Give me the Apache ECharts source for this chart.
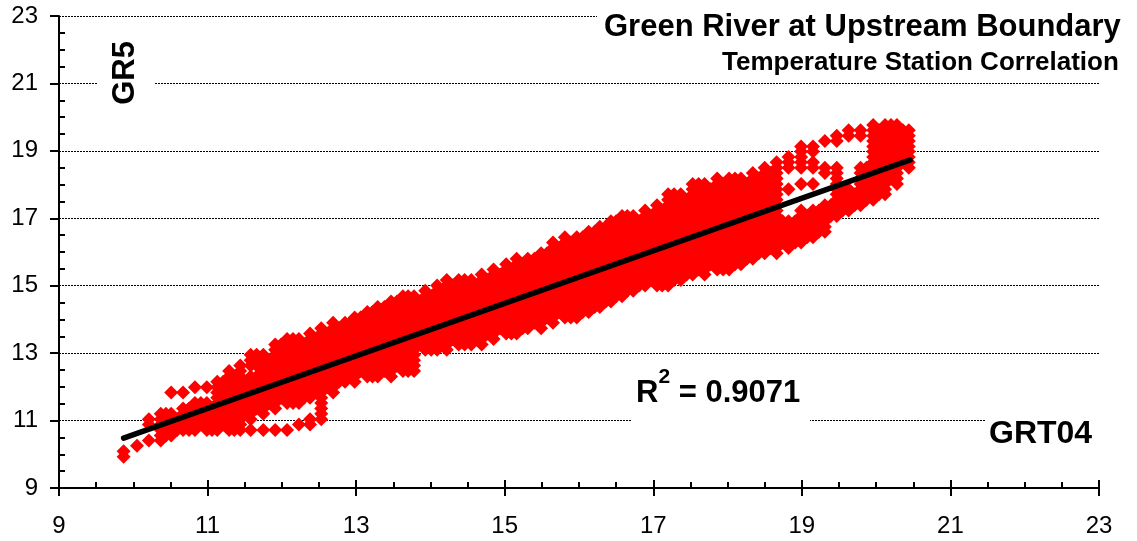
<!DOCTYPE html>
<html>
<head>
<meta charset="utf-8">
<script src="https://cdn.jsdelivr.net/npm/echarts@6/dist/echarts.min.js"></script>
<style>html,body{margin:0;padding:0;background:#fff}#c{width:1137px;height:541px}</style>
</head>
<body>
<div id="c"></div>
<script>
const axisTicks = [9, 11, 13, 15, 17, 19, 21, 23];
const titleText = 'Green River at Upstream Boundary';
const subtitleText = 'Temperature Station Correlation';
const xName = 'GRT04';
const yName = 'GR5';
const rSquared = '0.9071';
const trendX = [9.87, 20.46];
const trendY = [10.48, 18.73];

// GRT04 readings (one per column of points)
const grt04 = [9.87,10.05,10.21,10.37,10.51,10.67,10.83,10.99,11.13,11.29,11.44,11.58,11.75,11.91,12.07,12.23,12.38,12.53,12.69,12.85,12.98,13.15,13.29,13.47,13.63,13.78,13.93,14.09,14.22,14.38,14.55,14.69,14.85,15.02,15.16,15.31,15.49,15.65,15.81,15.97,16.13,16.28,16.43,16.58,16.73,16.89,17.05,17.20,17.37,17.53,17.69,17.86,18.02,18.18,18.34,18.50,18.66,18.82,18.99,19.15,19.31,19.47,19.63,19.79,19.96,20.12,20.28,20.44];
// GR5 logger levels
const gr5Levels = [9.93,10.09,10.25,10.41,10.56,10.72,10.88,11.04,11.20,11.36,11.52,11.68,11.83,11.99,12.15,12.31,12.47,12.63,12.79,12.95,13.10,13.26,13.42,13.58,13.74,13.90,14.06,14.22,14.37,14.53,14.69,14.85,15.01,15.17,15.33,15.48,15.64,15.80,15.96,16.12,16.28,16.44,16.60,16.75,16.91,17.07,17.23,17.39,17.55,17.71,17.86,18.02,18.18,18.34,18.50,18.66,18.82,18.98,19.13,19.29,19.45,19.61,19.77];
// Which GR5 levels were observed at each GRT04 reading
const gr5LevelsSeen = [
[0,1],
[2],
[3,6,7],
[3,4,5,6,7,8],
[4,5,6,7,8,12],
[5,6,7,8,9,12],
[5,6,7,8,9,10,13],
[5,6,7,8,9,10,13],
[5,6,7,8,9,10,11,12,13,14],
[5,6,7,8,9,10,11,12,13,14,15,16],
[5,6,7,8,9,10,11,12,13,14,15,16,17],
[5,7,8,9,10,11,12,13,14,15,17,18,19],
[5,8,9,10,11,12,13,14,15,16,17,18,19],
[5,9,10,11,12,13,14,15,16,17,18,19,20,21],
[5,10,11,12,13,14,15,16,17,18,19,20,21,22],
[6,10,11,12,13,14,15,16,17,18,19,20,21,22],
[6,7,11,12,13,14,15,16,17,18,19,20,21,22,23],
[7,8,9,10,11,12,13,14,15,16,17,18,19,20,21,22,23,24],
[12,13,14,15,16,17,18,19,20,21,22,23,24,25],
[14,15,16,17,18,19,20,21,22,23,24,25],
[14,15,16,17,18,19,20,21,22,23,24,25,26],
[15,16,17,18,19,20,21,22,23,24,25,26,27],
[15,16,17,18,19,20,21,22,23,24,25,26,27,28],
[15,16,17,18,19,20,21,22,23,24,25,26,27,28,29],
[16,17,18,19,20,21,22,23,24,25,26,27,28,29,30],
[16,17,18,19,20,21,22,23,24,25,26,27,28,29,30],
[20,21,22,23,24,25,26,27,28,29,30,31],
[20,21,22,23,24,25,26,27,28,29,30,31,32],
[20,21,22,23,24,25,26,27,28,29,30,31,32,33],
[21,22,23,24,25,26,27,28,29,30,31,32,33],
[21,22,23,24,25,26,27,28,29,30,31,32,33],
[21,22,23,24,25,26,27,28,29,30,31,32,33,34],
[22,23,24,25,26,27,28,29,30,31,32,33,34,35],
[23,24,25,26,27,28,29,30,31,32,33,34,35,36],
[23,24,25,26,27,28,29,30,31,32,33,34,35,36,37],
[24,25,26,27,28,29,30,31,32,33,34,35,36,37],
[24,25,26,27,28,29,30,31,32,33,34,35,36,37,38],
[25,26,27,28,29,30,31,32,33,34,35,36,37,38,39,40],
[26,27,28,29,30,31,32,33,34,35,36,37,38,39,40,41],
[26,27,28,29,30,31,32,33,34,35,36,37,38,39,40,41],
[27,28,29,30,31,32,33,34,35,36,37,38,39,40,41,42],
[28,29,30,31,32,33,34,35,36,37,38,39,40,41,42,43],
[29,30,31,32,33,34,35,36,37,38,39,40,41,42,43,44],
[30,31,32,33,34,35,36,37,38,39,40,41,42,43,44,45],
[31,32,33,34,35,36,37,38,39,40,41,42,43,44,45],
[32,33,34,35,36,37,38,39,40,41,42,43,44,45,46],
[32,33,34,35,36,37,38,39,40,41,42,43,44,45,46,47],
[32,33,34,35,36,37,38,39,40,41,42,43,44,45,46,47,48,49],
[33,34,35,36,37,38,39,40,41,42,43,44,45,46,47,48,49],
[34,35,36,37,38,39,40,41,42,43,44,45,46,47,48,49,50,51],
[34,35,36,37,38,39,40,41,42,43,44,45,46,47,48,49,50,51],
[35,36,37,38,39,40,41,42,43,44,45,46,47,48,49,50,51,52],
[35,36,37,38,39,40,41,42,43,44,45,46,47,48,49,50,51,52],
[36,37,38,39,40,41,42,43,44,45,46,47,48,49,50,51,52],
[37,38,39,40,41,42,43,44,45,46,47,48,49,50,51,52,53],
[38,39,40,41,42,43,44,45,46,47,48,49,50,51,52,53,54],
[38,39,40,41,42,43,44,45,46,47,48,49,50,51,52,53,54,55],
[39,40,41,42,43,44,50,54,55,56],
[40,41,42,43,44,45,46,51,54,55,56,57,58],
[41,42,43,44,45,46,51,54,55,57,58],
[42,43,44,45,46,47,53,54,59],
[45,46,47,48,49,50,51,52,53,54,59,60],
[46,47,48,49,50,60,61],
[47,48,49,50,51,52,53,54,60,61],
[48,49,50,51,52,53,54,55,56,57,58,59,60,61,62],
[49,50,51,52,53,54,55,56,57,58,59,60,61,62],
[51,52,53,54,55,56,57,58,59,60,61,62],
[54,55,56,57,58,59,60,61]
];

// Readings that sit between the main columns and close the seams of the dense band
const grt04Between = [10.44,10.59,10.75,10.91,11.06,11.21,11.36,11.51,11.66,11.83,11.99,12.15,12.30,12.45,12.61,12.77,12.92,13.06,13.22,13.38,13.55,13.70,13.85,14.01,14.15,14.30,14.46,14.62,14.77,14.94,15.09,15.24,15.40,15.57,15.73,15.89,16.05,16.21,16.36,16.50,16.65,16.81,16.97,17.12,17.28,17.45,17.61,17.77,17.94,18.10,18.26,18.42,18.58,18.74,18.91,19.07,19.23,19.39,19.55,19.71,19.87,20.04,20.20,20.36];
const gr5LevelsBetween = [
[4,6,8],
[5,7],
[5,7,9],
[6,8,10],
[5,7,9],
[6,8,10,12,14],
[5,7,9,11,13,15],
[8,10,12,14],
[9,11,13,15,17,19],
[10,12,14,16,18],
[11,13,15,17,19,21],
[10,12,14,16,18,20,22],
[11,13,15,17,19,21],
[12,14,16,18,20,22],
[13,15,17,19,21,23],
[14,16,18,20,22,24],
[15,17,19,21,23,25],
[16,18,20,22,24,26],
[15,17,19,21,23,25,27],
[16,18,20,22,24,26,28],
[17,19,21,23,25,27,29],
[16,18,20,22,24,26,28,30],
[21,23,25,27,29],
[20,22,24,26,28,30],
[21,23,25,27,29,31],
[22,24,26,28,30,32],
[21,23,25,27,29,31,33],
[22,24,26,28,30,32],
[23,25,27,29,31,33],
[24,26,28,30,32,34],
[23,25,27,29,31,33,35],
[24,26,28,30,32,34,36],
[25,27,29,31,33,35,37],
[26,28,30,32,34,36,38],
[27,29,31,33,35,37,39],
[26,28,30,32,34,36,38,40],
[27,29,31,33,35,37,39,41],
[28,30,32,34,36,38,40,42],
[29,31,33,35,37,39,41,43],
[30,32,34,36,38,40,42,44],
[31,33,35,37,39,41,43,45],
[32,34,36,38,40,42,44],
[33,35,37,39,41,43,45],
[32,34,36,38,40,42,44,46],
[33,35,37,39,41,43,45,47,49],
[34,36,38,40,42,44,46,48],
[35,37,39,41,43,45,47,49,51],
[36,38,40,42,44,46,48,50],
[35,37,39,41,43,45,47,49,51],
[36,38,40,42,44,46,48,50,52],
[37,39,41,43,45,47,49,51],
[38,40,42,44,46,48,50,52],
[39,41,43,45,47,49,51,53],
[40,42,44],
[40,42,44],
[41,43,45],
[42,44,46],
[45,47],
[46,48,50],
[47,49],
[48,50,52,54],
[49,51,53,55,57,59,61],
[52,54,56,58,60,62],
[55,57,59,61]
];

const points = [];
grt04.forEach((x, i) => gr5LevelsSeen[i].forEach(k => points.push([x, gr5Levels[k]])));
grt04Between.forEach((x, i) => gr5LevelsBetween[i].forEach(k => points.push([x, gr5Levels[k]])));

const FONT = '"Liberation Sans", Arial, sans-serif';
const chart = echarts.init(document.getElementById('c'), null, {renderer: 'canvas'});

const box = (x, y, width, height) => ({type: 'rect', z: 3, silent: true, shape: {x, y, width, height}, style: {fill: '#fff'}});
const label = (x, y, text, size, extra) => Object.assign({
  type: 'text', z: 4, silent: true, x, y,
  style: {text, fill: '#000', font: 'bold ' + size + 'px ' + FONT, textAlign: 'left', textVerticalAlign: 'middle'}
}, extra || {});

const xBase = {type: 'value', min: 9, max: 23, interval: 2, splitLine: {show: false}};
const yBase = {type: 'value', min: 9, max: 23, interval: 2};

chart.setOption({
  animation: false,
  backgroundColor: '#fff',
  grid: {left: 59, right: 38, top: 16, bottom: 53, containLabel: false},
  xAxis: [
    Object.assign({}, xBase, {
      position: 'bottom',
      axisLine: {show: true, onZero: false, lineStyle: {color: '#000', width: 2}},
      axisTick: {show: true, length: 8, lineStyle: {color: '#000', width: 2}},
      axisLabel: {show: true, margin: 26, color: '#000', fontFamily: FONT, fontSize: 24, formatter: v => axisTicks.includes(v) ? String(v) : ''}
    }),
    Object.assign({}, xBase, {
      position: 'bottom',
      axisLine: {show: false, onZero: false},
      axisTick: {show: true, inside: true, length: 8, lineStyle: {color: '#000', width: 2}},
      minorTick: {show: true, splitNumber: 4, length: 6, lineStyle: {color: '#000', width: 2}},
      axisLabel: {show: false}
    })
  ],
  yAxis: [
    Object.assign({}, yBase, {
      position: 'left',
      axisLine: {show: true, onZero: false, lineStyle: {color: '#000', width: 2}},
      axisTick: {show: true, length: 9, lineStyle: {color: '#000', width: 2}},
      axisLabel: {show: true, margin: 21, color: '#000', fontFamily: FONT, fontSize: 24, padding: [3, 0, 0, 0]},
      splitLine: {show: true, lineStyle: {color: '#000', width: 1, type: [2, 1]}}
    }),
    Object.assign({}, yBase, {
      position: 'left',
      axisLine: {show: false, onZero: false},
      axisTick: {show: false, inside: true},
      minorTick: {show: true, splitNumber: 4, length: 6, lineStyle: {color: '#000', width: 2}},
      axisLabel: {show: false},
      splitLine: {show: false}
    })
  ],
  series: [
    {type: 'scatter', xAxisIndex: 0, yAxisIndex: 0, z: 5, silent: true, symbol: 'diamond', symbolSize: 14, itemStyle: {color: '#ff0000', opacity: 1}, data: points},
    {type: 'line', xAxisIndex: 0, yAxisIndex: 0, z: 6, silent: true, symbol: 'none', lineStyle: {color: '#000', width: 5.5, cap: 'round'},
     data: trendX.map((x, i) => [x, trendY[i]])}
  ],
  graphic: {elements: [
    box(597, 0, 540, 78),
    box(97, 30, 58, 80),
    box(631, 370, 179, 60),
    box(985, 410, 152, 40),
    label(604, 27, titleText, 31),
    label(722, 63, subtitleText, 26),
    label(989, 434, xName, 32),
    {type: 'text', z: 4, silent: true, x: 125, y: 73, rotation: Math.PI / 2, originX: 0, originY: 0,
     style: {text: yName, fill: '#000', font: 'bold 31px ' + FONT, textAlign: 'center', textVerticalAlign: 'middle'}},
    {type: 'text', z: 4, silent: true, x: 636, y: 388, style: {
      text: '{b|R}{s|2}{b| = ' + rSquared + '}', textAlign: 'left', textVerticalAlign: 'middle',
      rich: {
        b: {fill: '#000', font: 'bold 31px ' + FONT, verticalAlign: 'bottom', lineHeight: 42},
        s: {fill: '#000', font: 'bold 21px ' + FONT, verticalAlign: 'top', lineHeight: 42}
      }
    }}
  ]}
});
</script>
</body>
</html>
